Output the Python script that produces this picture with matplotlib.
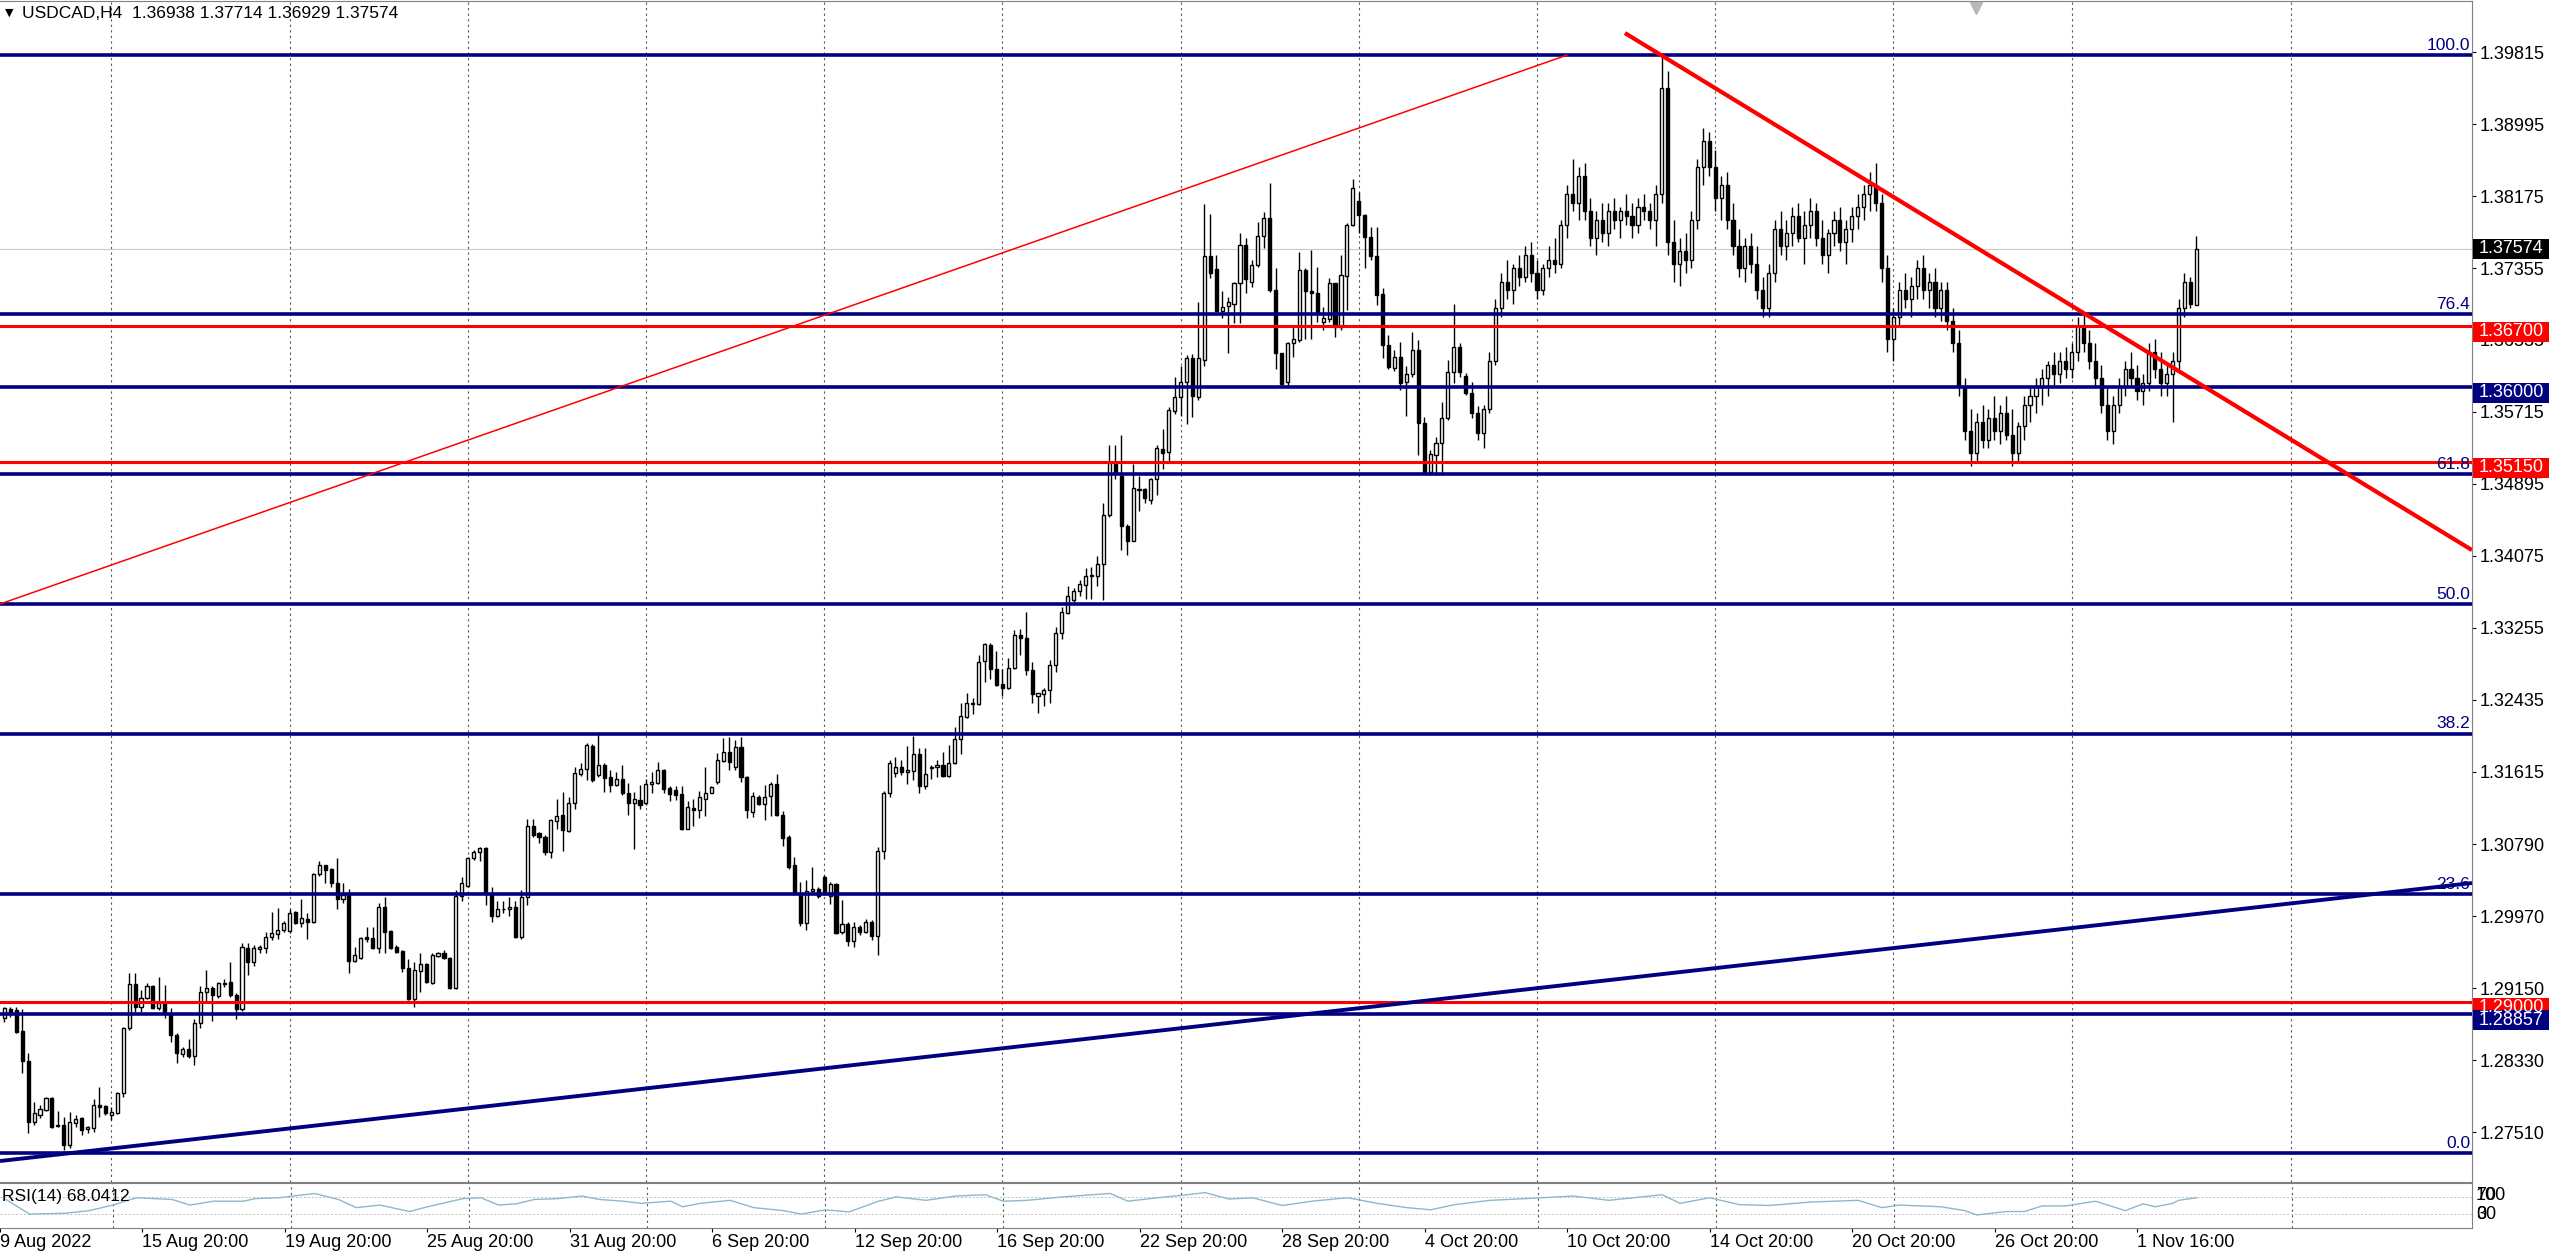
import numpy as np
import matplotlib.pyplot as plt
from matplotlib.patches import Rectangle

plt.rcParams['font.family'] = ['Liberation Sans', 'DejaVu Sans']

# USDCAD H4 candles, bar 0 = 10 Aug 2022 00:00
opens = [
    1.2881, 1.2891, 1.2890, 1.2866, 1.2832, 1.2763, 1.2771, 1.2777, 1.2790, 1.2759,
    1.2759, 1.2737, 1.2762, 1.2767, 1.2755, 1.2756, 1.2782, 1.2781, 1.2771, 1.2773,
    1.2796, 1.2870, 1.2920, 1.2894, 1.2904, 1.2918, 1.2893, 1.2898, 1.2886, 1.2862,
    1.2840, 1.2846, 1.2838, 1.2876, 1.2911, 1.2915, 1.2906, 1.2920, 1.2922, 1.2907,
    1.2891, 1.2961, 1.2945, 1.2960, 1.2961, 1.2973, 1.2977, 1.2981, 1.2980, 1.3002,
    1.2989, 1.2994, 1.2991, 1.3045, 1.3055, 1.3051, 1.3035, 1.3017, 1.3024, 1.2946,
    1.2950, 1.2974, 1.2972, 1.2961, 1.3008, 1.2980, 1.2962, 1.2958, 1.2938, 1.2903,
    1.2935, 1.2943, 1.2921, 1.2952, 1.2955, 1.2950, 1.2915, 1.3020, 1.3032, 1.3063,
    1.3070, 1.3075, 1.3022, 1.2997, 1.3005, 1.3006, 1.3008, 1.2973, 1.3019, 1.3100,
    1.3092, 1.3088, 1.3070, 1.3106, 1.3112, 1.3094, 1.3126, 1.3159, 1.3165, 1.3191,
    1.3158, 1.3169, 1.3156, 1.3147, 1.3154, 1.3138, 1.3126, 1.3130, 1.3126, 1.3148,
    1.3149, 1.3164, 1.3143, 1.3141, 1.3136, 1.3097, 1.3121, 1.3118, 1.3131, 1.3138,
    1.3150, 1.3174, 1.3184, 1.3167, 1.3190, 1.3156, 1.3116, 1.3133, 1.3125, 1.3134,
    1.3148, 1.3113, 1.3088, 1.3056, 1.3024, 1.2990, 1.3026, 1.3028, 1.3042, 1.3020,
    1.3034, 1.2979, 1.2988, 1.2969, 1.2985, 1.2979, 1.2991, 1.2975, 1.3072, 1.3137,
    1.3160, 1.3167, 1.3161, 1.3163, 1.3182, 1.3146, 1.3166, 1.3167, 1.3170, 1.3157,
    1.3172, 1.3199, 1.3224, 1.3239, 1.3239, 1.3288, 1.3306, 1.3279, 1.3262, 1.3257,
    1.3280, 1.3317, 1.3314, 1.3278, 1.3248, 1.3250, 1.3255, 1.3283, 1.3320, 1.3342,
    1.3357, 1.3368, 1.3374, 1.3386, 1.3385, 1.3398, 1.3454, 1.3513, 1.3499, 1.3442,
    1.3425, 1.3484, 1.3484, 1.3471, 1.3495, 1.3529, 1.3526, 1.3573, 1.3589, 1.3606,
    1.3633, 1.3589, 1.3631, 1.3749, 1.3734, 1.3686, 1.3692, 1.3694, 1.3718, 1.3762,
    1.3720, 1.3739, 1.3772, 1.3792, 1.3710, 1.3639, 1.3606, 1.3650, 1.3654, 1.3733,
    1.3709, 1.3707, 1.3674, 1.3677, 1.3718, 1.3668, 1.3726, 1.3784, 1.3812, 1.3796,
    1.3771, 1.3749, 1.3706, 1.3648, 1.3622, 1.3634, 1.3606, 1.3615, 1.3642, 1.3559,
    1.3503, 1.3522, 1.3536, 1.3565, 1.3617, 1.3645, 1.3613, 1.3593, 1.3570, 1.3548,
    1.3575, 1.3630, 1.3690, 1.3720, 1.3710, 1.3735, 1.3725, 1.3750, 1.3730, 1.3710,
    1.3735, 1.3745, 1.3740, 1.3785, 1.3820, 1.3810, 1.3840, 1.3800, 1.3770, 1.3790,
    1.3775, 1.3800, 1.3790, 1.3800, 1.3795, 1.3785, 1.3805, 1.3800, 1.3790, 1.3820,
    1.3940, 1.3765, 1.3740, 1.3755, 1.3745, 1.3790, 1.3850, 1.3880, 1.3850, 1.3815,
    1.3830, 1.3790, 1.3760, 1.3735, 1.3760, 1.3740, 1.3710, 1.3690, 1.3730, 1.3780,
    1.3760, 1.3775, 1.3795, 1.3770, 1.3785, 1.3800, 1.3770, 1.3750, 1.3775, 1.3790,
    1.3765, 1.3780, 1.3795, 1.3805, 1.3820, 1.3830, 1.3810, 1.3735, 1.3655, 1.3680,
    1.3710, 1.3700, 1.3715, 1.3735, 1.3710, 1.3720, 1.3690, 1.3710, 1.3675, 1.3650,
    1.3600, 1.3550, 1.3525, 1.3560, 1.3540, 1.3565, 1.3550, 1.3570, 1.3545, 1.3525,
    1.3555, 1.3580, 1.3590, 1.3600, 1.3610, 1.3625, 1.3615, 1.3630, 1.3620, 1.3640,
    1.3670, 1.3650, 1.3630, 1.3610, 1.3580, 1.3550, 1.3580, 1.3600, 1.3620, 1.3610,
    1.3595, 1.3605, 1.3640, 1.3620, 1.3605, 1.3615, 1.3630, 1.3690, 1.3720, 1.36938,
]
highs = [
    1.2894, 1.2894, 1.2894, 1.2891, 1.2841, 1.2786, 1.2782, 1.2791, 1.2791, 1.2775,
    1.2768, 1.2774, 1.2771, 1.2768, 1.2758, 1.2789, 1.2803, 1.2782, 1.2780, 1.2797,
    1.2871, 1.2933, 1.2933, 1.2913, 1.2921, 1.2919, 1.2928, 1.2919, 1.2893, 1.2864,
    1.2848, 1.2857, 1.2880, 1.2918, 1.2936, 1.2918, 1.2922, 1.2926, 1.2945, 1.2910,
    1.2967, 1.2967, 1.2964, 1.2965, 1.2979, 1.3002, 1.3007, 1.2992, 1.3006, 1.3003,
    1.3017, 1.3001, 1.3047, 1.3060, 1.3056, 1.3052, 1.3063, 1.3035, 1.3028, 1.2962,
    1.2974, 1.2985, 1.2985, 1.3012, 1.3019, 1.2981, 1.2964, 1.2959, 1.2949, 1.2945,
    1.2955, 1.2944, 1.2955, 1.2956, 1.2959, 1.2951, 1.3027, 1.3042, 1.3065, 1.3073,
    1.3076, 1.3076, 1.3030, 1.3014, 1.3014, 1.3019, 1.3014, 1.3027, 1.3108, 1.3108,
    1.3093, 1.3090, 1.3108, 1.3131, 1.3139, 1.3133, 1.3167, 1.3172, 1.3195, 1.3193,
    1.3207, 1.3172, 1.3164, 1.3162, 1.3169, 1.3149, 1.3139, 1.3147, 1.3154, 1.3162,
    1.3173, 1.3165, 1.3145, 1.3145, 1.3145, 1.3129, 1.3131, 1.3140, 1.3167, 1.3146,
    1.3183, 1.3200, 1.3201, 1.3198, 1.3201, 1.3157, 1.3139, 1.3135, 1.3147, 1.3150,
    1.3159, 1.3117, 1.3090, 1.3065, 1.3036, 1.3038, 1.3053, 1.3031, 1.3044, 1.3036,
    1.3035, 1.3016, 1.2991, 1.2991, 1.2987, 1.2994, 1.2993, 1.3076, 1.3140, 1.3175,
    1.3178, 1.3175, 1.3191, 1.3202, 1.3189, 1.3189, 1.3170, 1.3175, 1.3184, 1.3192,
    1.3213, 1.3240, 1.3251, 1.3246, 1.3295, 1.3308, 1.3308, 1.3299, 1.3279, 1.3291,
    1.3323, 1.3324, 1.3344, 1.3287, 1.3252, 1.3257, 1.3289, 1.3327, 1.3349, 1.3373,
    1.3371, 1.3380, 1.3394, 1.3395, 1.3408, 1.3468, 1.3534, 1.3534, 1.3545, 1.3444,
    1.3512, 1.3499, 1.3485, 1.3496, 1.3534, 1.3552, 1.3577, 1.3611, 1.3624, 1.3636,
    1.3638, 1.3697, 1.3808, 1.3797, 1.3750, 1.3709, 1.3703, 1.3720, 1.3775, 1.3770,
    1.3745, 1.3788, 1.3799, 1.3832, 1.3735, 1.3639, 1.3651, 1.3671, 1.3754, 1.3735,
    1.3756, 1.3737, 1.3691, 1.3724, 1.3718, 1.3750, 1.3787, 1.3837, 1.3822, 1.3797,
    1.3782, 1.3782, 1.3713, 1.3659, 1.3642, 1.3651, 1.3624, 1.3663, 1.3653, 1.3566,
    1.3528, 1.3543, 1.3583, 1.3631, 1.3694, 1.3650, 1.3616, 1.3606, 1.3578, 1.3580,
    1.3640, 1.3700, 1.3730, 1.3745, 1.3740, 1.3750, 1.3760, 1.3765, 1.3745, 1.3740,
    1.3760, 1.3770, 1.3790, 1.3830, 1.3860, 1.3850, 1.3855, 1.3815, 1.3800, 1.3810,
    1.3810, 1.3815, 1.3805, 1.3820, 1.3810, 1.3815, 1.3820, 1.3810, 1.3830, 1.3978,
    1.3960, 1.3790, 1.3770, 1.3775, 1.3800, 1.3860, 1.3895, 1.3890, 1.3870, 1.3840,
    1.3845, 1.3810, 1.3780, 1.3770, 1.3775, 1.3760, 1.3725, 1.3740, 1.3790, 1.3800,
    1.3790, 1.3805, 1.3810, 1.3800, 1.3815, 1.3810, 1.3790, 1.3780, 1.3800, 1.3805,
    1.3790, 1.3805, 1.3820, 1.3830, 1.3845, 1.3855, 1.3820, 1.3750, 1.3690, 1.3720,
    1.3730, 1.3725, 1.3745, 1.3750, 1.3730, 1.3735, 1.3720, 1.3720, 1.3690, 1.3665,
    1.3610, 1.3575, 1.3570, 1.3580, 1.3575, 1.3590, 1.3580, 1.3590, 1.3575, 1.3560,
    1.3590, 1.3600, 1.3610, 1.3620, 1.3630, 1.3640, 1.3640, 1.3645, 1.3650, 1.3680,
    1.3685, 1.3665, 1.3650, 1.3625, 1.3600, 1.3590, 1.3610, 1.3630, 1.3640, 1.3625,
    1.3615, 1.3650, 1.3655, 1.3640, 1.3625, 1.3640, 1.3700, 1.3730, 1.3725, 1.37714,
]
lows = [
    1.2877, 1.2882, 1.2864, 1.2819, 1.2750, 1.2759, 1.2767, 1.2775, 1.2756, 1.2757,
    1.2731, 1.2733, 1.2757, 1.2748, 1.2750, 1.2751, 1.2768, 1.2771, 1.2765, 1.2772,
    1.2791, 1.2868, 1.2888, 1.2888, 1.2903, 1.2891, 1.2890, 1.2881, 1.2854, 1.2830,
    1.2837, 1.2836, 1.2828, 1.2870, 1.2899, 1.2878, 1.2904, 1.2917, 1.2905, 1.2880,
    1.2889, 1.2930, 1.2941, 1.2955, 1.2955, 1.2970, 1.2971, 1.2979, 1.2978, 1.2988,
    1.2985, 1.2971, 1.2990, 1.3043, 1.3035, 1.3030, 1.3006, 1.3012, 1.2933, 1.2945,
    1.2948, 1.2968, 1.2960, 1.2955, 1.2955, 1.2960, 1.2955, 1.2934, 1.2902, 1.2894,
    1.2911, 1.2921, 1.2920, 1.2951, 1.2949, 1.2914, 1.2914, 1.3015, 1.3031, 1.3061,
    1.3060, 1.3010, 1.2991, 1.2996, 1.3001, 1.2997, 1.2972, 1.2971, 1.3010, 1.3088,
    1.3081, 1.3067, 1.3063, 1.3096, 1.3072, 1.3093, 1.3119, 1.3157, 1.3152, 1.3150,
    1.3156, 1.3139, 1.3139, 1.3146, 1.3135, 1.3113, 1.3074, 1.3119, 1.3124, 1.3138,
    1.3148, 1.3138, 1.3128, 1.3130, 1.3095, 1.3096, 1.3100, 1.3109, 1.3111, 1.3137,
    1.3148, 1.3173, 1.3164, 1.3164, 1.3150, 1.3109, 1.3110, 1.3124, 1.3107, 1.3111,
    1.3111, 1.3077, 1.3051, 1.3021, 1.2986, 1.2981, 1.3024, 1.3018, 1.3021, 1.3011,
    1.2977, 1.2977, 1.2963, 1.2962, 1.2976, 1.2978, 1.2970, 1.2953, 1.3062, 1.3133,
    1.3156, 1.3158, 1.3148, 1.3152, 1.3138, 1.3142, 1.3154, 1.3156, 1.3156, 1.3156,
    1.3171, 1.3182, 1.3223, 1.3228, 1.3238, 1.3264, 1.3267, 1.3259, 1.3248, 1.3256,
    1.3279, 1.3295, 1.3272, 1.3240, 1.3229, 1.3237, 1.3240, 1.3275, 1.3313, 1.3341,
    1.3355, 1.3362, 1.3358, 1.3359, 1.3373, 1.3357, 1.3452, 1.3495, 1.3414, 1.3409,
    1.3424, 1.3459, 1.3468, 1.3467, 1.3477, 1.3507, 1.3513, 1.3569, 1.3567, 1.3558,
    1.3566, 1.3585, 1.3624, 1.3724, 1.3685, 1.3678, 1.3639, 1.3673, 1.3673, 1.3707,
    1.3714, 1.3737, 1.3758, 1.3708, 1.3620, 1.3600, 1.3600, 1.3634, 1.3651, 1.3655,
    1.3655, 1.3674, 1.3665, 1.3674, 1.3657, 1.3665, 1.3688, 1.3783, 1.3775, 1.3735,
    1.3745, 1.3693, 1.3633, 1.3620, 1.3618, 1.3597, 1.3567, 1.3611, 1.3522, 1.3502,
    1.3500, 1.3500, 1.3500, 1.3562, 1.3605, 1.3611, 1.3591, 1.3565, 1.3540, 1.3530,
    1.3570, 1.3625, 1.3680, 1.3700, 1.3695, 1.3715, 1.3720, 1.3720, 1.3700, 1.3705,
    1.3725, 1.3730, 1.3735, 1.3770, 1.3800, 1.3790, 1.3790, 1.3760, 1.3750, 1.3765,
    1.3760, 1.3780, 1.3770, 1.3785, 1.3770, 1.3775, 1.3790, 1.3780, 1.3760, 1.3810,
    1.3750, 1.3720, 1.3715, 1.3730, 1.3735, 1.3780, 1.3830, 1.3840, 1.3800, 1.3790,
    1.3780, 1.3750, 1.3725, 1.3720, 1.3730, 1.3700, 1.3680, 1.3680, 1.3720, 1.3750,
    1.3745, 1.3760, 1.3765, 1.3740, 1.3770, 1.3760, 1.3740, 1.3730, 1.3760, 1.3755,
    1.3740, 1.3765, 1.3780, 1.3790, 1.3800, 1.3800, 1.3720, 1.3640, 1.3630, 1.3670,
    1.3690, 1.3680, 1.3700, 1.3700, 1.3690, 1.3680, 1.3675, 1.3665, 1.3640, 1.3590,
    1.3540, 1.3510, 1.3515, 1.3530, 1.3530, 1.3540, 1.3535, 1.3540, 1.3510, 1.3515,
    1.3540, 1.3560, 1.3570, 1.3580, 1.3590, 1.3600, 1.3605, 1.3610, 1.3610, 1.3630,
    1.3640, 1.3620, 1.3600, 1.3570, 1.3540, 1.3535, 1.3570, 1.3590, 1.3600, 1.3585,
    1.3580, 1.3595, 1.3610, 1.3590, 1.3590, 1.3560, 1.3620, 1.3680, 1.3690, 1.36929,
]
closes = [
    1.2893, 1.2887, 1.2865, 1.2832, 1.2763, 1.2773, 1.2778, 1.2790, 1.2757, 1.2758,
    1.2737, 1.2763, 1.2766, 1.2754, 1.2757, 1.2782, 1.2780, 1.2773, 1.2774, 1.2796,
    1.2870, 1.2920, 1.2894, 1.2904, 1.2918, 1.2893, 1.2898, 1.2888, 1.2862, 1.2841,
    1.2846, 1.2838, 1.2876, 1.2911, 1.2915, 1.2907, 1.2921, 1.2921, 1.2907, 1.2891,
    1.2962, 1.2945, 1.2961, 1.2962, 1.2973, 1.2978, 1.2981, 1.2989, 1.3001, 1.2989,
    1.2995, 1.2991, 1.3045, 1.3055, 1.3050, 1.3035, 1.3017, 1.3021, 1.2946, 1.2953,
    1.2972, 1.2971, 1.2961, 1.3008, 1.2979, 1.2961, 1.2956, 1.2938, 1.2903, 1.2936,
    1.2943, 1.2922, 1.2953, 1.2955, 1.2950, 1.2915, 1.3020, 1.3035, 1.3063, 1.3070,
    1.3075, 1.3024, 1.2997, 1.3006, 1.3006, 1.3008, 1.2973, 1.3019, 1.3100, 1.3090,
    1.3088, 1.3070, 1.3107, 1.3111, 1.3095, 1.3126, 1.3160, 1.3165, 1.3192, 1.3152,
    1.3169, 1.3155, 1.3147, 1.3154, 1.3138, 1.3126, 1.3131, 1.3124, 1.3148, 1.3150,
    1.3164, 1.3142, 1.3136, 1.3135, 1.3097, 1.3122, 1.3118, 1.3133, 1.3138, 1.3144,
    1.3175, 1.3184, 1.3173, 1.3190, 1.3156, 1.3118, 1.3134, 1.3125, 1.3133, 1.3148,
    1.3113, 1.3086, 1.3053, 1.3024, 1.2990, 1.3026, 1.3028, 1.3020, 1.3025, 1.3034,
    1.2978, 1.2988, 1.2969, 1.2985, 1.2979, 1.2991, 1.2975, 1.3072, 1.3137, 1.3172,
    1.3167, 1.3161, 1.3164, 1.3182, 1.3146, 1.3159, 1.3167, 1.3170, 1.3157, 1.3172,
    1.3199, 1.3225, 1.3240, 1.3240, 1.3287, 1.3307, 1.3279, 1.3261, 1.3257, 1.3280,
    1.3317, 1.3314, 1.3278, 1.3250, 1.3251, 1.3255, 1.3283, 1.3320, 1.3344, 1.3362,
    1.3368, 1.3376, 1.3385, 1.3385, 1.3398, 1.3454, 1.3513, 1.3502, 1.3442, 1.3425,
    1.3485, 1.3483, 1.3473, 1.3495, 1.3530, 1.3525, 1.3574, 1.3589, 1.3606, 1.3633,
    1.3590, 1.3633, 1.3749, 1.3730, 1.3686, 1.3691, 1.3697, 1.3718, 1.3762, 1.3723,
    1.3739, 1.3772, 1.3792, 1.3710, 1.3639, 1.3603, 1.3650, 1.3655, 1.3733, 1.3709,
    1.3707, 1.3684, 1.3678, 1.3718, 1.3668, 1.3727, 1.3784, 1.3827, 1.3796, 1.3771,
    1.3749, 1.3705, 1.3648, 1.3623, 1.3634, 1.3604, 1.3615, 1.3642, 1.3559, 1.3503,
    1.3524, 1.3536, 1.3565, 1.3617, 1.3645, 1.3617, 1.3593, 1.3570, 1.3548, 1.3575,
    1.3630, 1.3690, 1.3720, 1.3710, 1.3735, 1.3725, 1.3750, 1.3730, 1.3710, 1.3735,
    1.3745, 1.3740, 1.3785, 1.3820, 1.3810, 1.3840, 1.3800, 1.3770, 1.3790, 1.3775,
    1.3800, 1.3790, 1.3800, 1.3795, 1.3785, 1.3805, 1.3800, 1.3790, 1.3820, 1.3940,
    1.3765, 1.3740, 1.3755, 1.3745, 1.3790, 1.3850, 1.3880, 1.3850, 1.3815, 1.3830,
    1.3790, 1.3760, 1.3735, 1.3760, 1.3740, 1.3710, 1.3690, 1.3730, 1.3780, 1.3760,
    1.3775, 1.3795, 1.3770, 1.3785, 1.3800, 1.3770, 1.3750, 1.3775, 1.3790, 1.3765,
    1.3780, 1.3795, 1.3805, 1.3820, 1.3830, 1.3810, 1.3735, 1.3655, 1.3680, 1.3710,
    1.3700, 1.3715, 1.3735, 1.3710, 1.3720, 1.3690, 1.3710, 1.3675, 1.3650, 1.3600,
    1.3550, 1.3525, 1.3560, 1.3540, 1.3565, 1.3550, 1.3570, 1.3545, 1.3525, 1.3555,
    1.3580, 1.3590, 1.3600, 1.3610, 1.3625, 1.3615, 1.3630, 1.3620, 1.3640, 1.3670,
    1.3650, 1.3630, 1.3610, 1.3580, 1.3550, 1.3580, 1.3600, 1.3620, 1.3610, 1.3595,
    1.3605, 1.3640, 1.3620, 1.3605, 1.3615, 1.3630, 1.3690, 1.3720, 1.3694, 1.37574,
]

# RSI(14) (bar index, value)
rsi_bar = [0, 4, 10, 14, 18, 22, 28, 31, 35, 40, 42, 46, 52, 56, 59, 63, 68, 71, 77, 80,
           83, 86, 89, 93, 97, 100, 104, 107, 112, 114, 117, 122, 126, 131, 134, 138, 142,
           147, 150, 155, 160, 165, 168, 172, 178, 186, 189, 194, 199, 202, 206, 210, 215,
           220, 226, 231, 236, 240, 244, 250, 256, 264, 270, 279, 282, 287, 292, 297, 304,
           312, 316, 319, 326, 330, 332, 337, 340, 343, 347, 352, 357, 360, 362, 365, 366, 369]
rsi_val = [64, 30, 32, 38, 51, 68, 64, 51, 60, 60, 66, 68, 78, 64, 45, 51, 36, 47, 66, 68,
           51, 54, 64, 66, 72, 64, 60, 55, 60, 47, 55, 62, 45, 38, 30, 40, 35,
           60, 70, 62, 72, 75, 60, 62, 70, 78, 60, 68, 75, 80, 65, 68, 50,
           60, 68, 55, 45, 40, 52, 62, 66, 72, 62, 75, 55, 68, 52, 50, 58,
           62, 45, 51, 47, 38, 28, 36, 36, 49, 49, 60, 38, 54, 47, 55, 62, 68.04]

fib_low, fib_high = 1.27274, 1.39781
fib_levels = [0.0, 23.6, 38.2, 50.0, 61.8, 76.4, 100.0]
red_levels = [1.36700, 1.35150, 1.29000]
navy_levels = [1.36000, 1.28857]
last_price = 1.37574

# trend lines as (bar, price) end points
thin_red_bars, thin_red_prices = [-0.74, 263.1], [1.33528, 1.39781]
thick_red_bars, thick_red_prices = [272.8, 415.4], [1.40031, 1.34142]
navy_trend_bars, navy_trend_prices = [-0.74, 415.4], [1.27184, 1.30350]

price_ticks = [1.39815, 1.38995, 1.38175, 1.37355, 1.36535, 1.35715, 1.34895, 1.34075,
               1.33255, 1.32435, 1.31615, 1.30790, 1.29970, 1.29150, 1.28330, 1.27510]
monday_bars = [18, 48, 78, 108, 138, 168, 198, 228, 258, 288, 318, 348, 385]
date_bars = [-1, 23, 47, 71, 95, 119, 143, 167, 191, 215, 239, 263, 287, 311, 335, 359]
date_labels = ['9 Aug 2022', '15 Aug 20:00', '19 Aug 20:00', '25 Aug 20:00', '31 Aug 20:00',
               '6 Sep 20:00', '12 Sep 20:00', '16 Sep 20:00', '22 Sep 20:00', '28 Sep 20:00',
               '4 Oct 20:00', '10 Oct 20:00', '14 Oct 20:00', '20 Oct 20:00', '26 Oct 20:00',
               '1 Nov 16:00']

NAVY = '#000080'
RED = '#ff0000'
FS = 13

W, H = 2560, 1252
fig = plt.figure(figsize=(W / 100, H / 100), dpi=100)
ax = fig.add_axes([0, 70 / H, 2472 / W, 1181 / H])
ax2 = fig.add_axes([0, 24 / H, 2472 / W, 45 / H])

xlim = (-0.74, 415.4)
ax.set_xlim(*xlim)
ax.set_ylim(1.26945, 1.40396)
ax2.set_xlim(*xlim)
ax2.set_ylim(-2.3, 102.3)

# candles
o, h, l, c = map(np.array, (opens, highs, lows, closes))
idx = np.arange(len(o))
up = c >= o
ax.vlines(idx, l, h, color='black', lw=1.0, zorder=2)
ax.bar(idx, np.abs(c - o), bottom=np.minimum(o, c), width=0.52,
       color=np.where(up, 'white', 'black'), edgecolor='black', linewidth=1.0, zorder=3)

# grid
for b in monday_bars:
    for a in (ax, ax2):
        a.axvline(b, color='#555555', lw=0.8, ls=(0, (2, 3)), zorder=1)

ax.axhline(last_price, color='#c8c8c8', lw=0.8, zorder=1)

# fibonacci levels
for lev in fib_levels:
    p = fib_low + (fib_high - fib_low) * lev / 100
    ax.axhline(p, color=NAVY, lw=2.6, zorder=4)
    ax.text(0.9993, p + 0.00025, '%.1f' % lev, transform=ax.get_yaxis_transform(),
            ha='right', va='bottom', color=NAVY, fontsize=12.5, zorder=5)

for p in red_levels:
    ax.axhline(p, color=RED, lw=2.2, zorder=4)
for p in navy_levels:
    ax.axhline(p, color=NAVY, lw=2.6, zorder=4)

ax.plot(thin_red_bars, thin_red_prices, color=RED, lw=1.1, zorder=4, solid_capstyle='butt')
ax.plot(thick_red_bars, thick_red_prices, color=RED, lw=3.0, zorder=4, solid_capstyle='butt')
ax.plot(navy_trend_bars, navy_trend_prices, color=NAVY, lw=2.8, zorder=4, solid_capstyle='butt')

# price axis
ax.yaxis.tick_right()
ax.set_yticks(price_ticks)
ax.set_yticklabels(['%.5f' % t for t in price_ticks])
ax.tick_params(axis='y', direction='out', length=3, width=0.8, pad=2.5, labelsize=FS, colors='black')
ax.set_xticks([])
for s in ax.spines.values():
    s.set_color('#808080')
ax.spines['left'].set_visible(False)

# coloured price labels on the axis
ppx = (ax.get_ylim()[1] - ax.get_ylim()[0]) / 1181.0  # price per pixel
box_w = 76 / 2472


def price_box(price, color, top_px):
    y0 = price + top_px * ppx - 20 * ppx
    ax.add_patch(Rectangle((1.0004, y0), box_w, 20 * ppx, transform=ax.get_yaxis_transform(),
                           facecolor=color, edgecolor='none', clip_on=False, zorder=10))
    ax.text(1.0004 + box_w / 2, y0 + 10 * ppx, '%.5f' % price, transform=ax.get_yaxis_transform(),
            ha='center', va='center', color='white', fontsize=FS, clip_on=False, zorder=11)


price_box(last_price, 'black', 10)
price_box(1.36700, RED, 4)
price_box(1.36000, NAVY, 4)
price_box(1.35150, RED, 4)
price_box(1.29000, RED, 4)
price_box(1.28857, NAVY, 4)

# header
ax.text(5 / 2472, 1 - 12 / 1181, '\u25bc', transform=ax.transAxes, fontsize=8,
        family='DejaVu Sans', va='center', ha='left')
ax.text(22 / 2472, 1 - 12 / 1181, 'USDCAD,H4  1.36938 1.37714 1.36929 1.37574',
        transform=ax.transAxes, fontsize=12.5, va='center', ha='left')
ax.plot([1976 / 2472], [1 - 7 / 1181], marker='v', ms=9, color='#b8b8b8',
        transform=ax.transAxes, clip_on=False, zorder=6)

# RSI pane
ax2.plot(rsi_bar, rsi_val, color='#8db8cc', lw=1.0, zorder=3)
for lv in (70, 30):
    ax2.axhline(lv, color='#c0c0c0', lw=0.7, ls=(0, (2, 2)), zorder=1)
ax2.text(2 / 2472, 0.69, 'RSI(14) 68.0412', transform=ax2.transAxes, fontsize=12.5,
         va='center', ha='left', zorder=5)
for lab, yf in (('100', 0.733), ('70', 0.733), ('30', 0.311), ('0', 0.311)):
    ax2.text(1.0016, yf, lab, transform=ax2.transAxes, fontsize=FS, va='center', ha='left',
             clip_on=False)
ax2.set_yticks([])
ax2.set_xticks(date_bars)
ax2.set_xticklabels(date_labels)
for t in ax2.get_xticklabels():
    t.set_ha('left')
ax2.tick_params(axis='x', direction='out', length=3, width=0.8, pad=1.5, labelsize=FS,
                colors='black')
for s in ax2.spines.values():
    s.set_color('#808080')
ax2.spines['left'].set_visible(False)

fig.savefig('out.png', dpi=100, facecolor='white')
